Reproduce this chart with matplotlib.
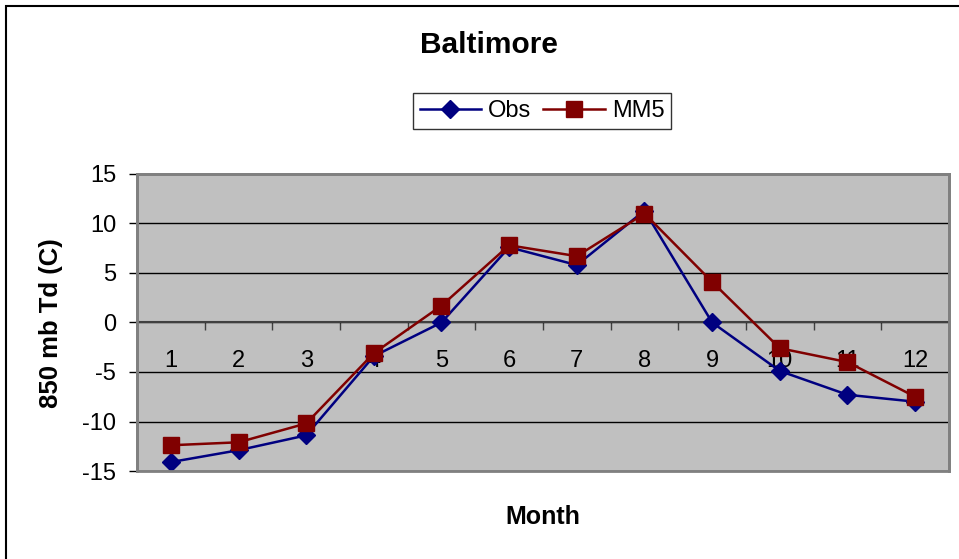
import numpy as np
import matplotlib
matplotlib.use("Agg")
import matplotlib.pyplot as plt
from matplotlib.patches import Rectangle

plt.rcParams['font.family'] = ['Liberation Sans', 'DejaVu Sans']
plt.rcParams['axes.unicode_minus'] = False

# monthly mean 850 mb dew point, observed vs MM5
months = ['1', '2', '3', '4', '5', '6', '7', '8', '9', '10', '11', '12']
obs = [-14.1, -12.9, -11.4, -3.4, 0.0, 7.6, 5.8, 11.3, 0.0, -4.9, -7.3, -8.0]
mm5 = [-12.4, -12.1, -10.2, -3.1, 1.7, 7.8, 6.7, 11.0, 4.1, -2.6, -4.0, -7.5]

fig = plt.figure(figsize=(9.59, 5.59), dpi=100)
fig.patch.set_facecolor('white')

# outer chart frame
fig.patches.append(Rectangle((6/959, -0.1), 1.2, 1 - 6/559 + 0.1, transform=fig.transFigure,
                             fill=False, edgecolor='black', linewidth=1.5))

ax = fig.add_axes([137/959, 1 - 471/559, (949 - 137)/959, (471 - 174)/559])
ax.set_facecolor('#C0C0C0')

x = np.arange(1, len(months) + 1)
ax.plot(x, obs, color='#000080', marker='D', markersize=9, linewidth=1.8, label='Obs', zorder=3)
ax.plot(x, mm5, color='#800000', marker='s', markersize=11, linewidth=1.8, label='MM5', zorder=4)

ax.set_ylim(-15, 15)
ax.set_xlim(0.5, 12.5)
ax.set_yticks(np.arange(-15, 16, 5))
ax.yaxis.grid(True, color='black', linewidth=1)
ax.set_axisbelow(True)
ax.tick_params(axis='y', direction='out', length=6, width=1, pad=9, labelsize=17, colors='black')

# category axis sits on y = 0, ticks between months
ax.spines['bottom'].set_position(('data', 0))
ax.spines['bottom'].set_color('#404040')
ax.spines['bottom'].set_linewidth(1.5)
ax.set_xticks(np.arange(0.5, 12.6, 1))
ax.set_xticklabels([])
ax.set_xticks(x, minor=True)
ax.set_xticklabels(months, minor=True)
ax.tick_params(axis='x', which='major', direction='out', length=6, width=1, color='#404040')
ax.tick_params(axis='x', which='minor', length=0, pad=20, labelsize=17)

for side in ['left', 'right', 'top']:
    ax.spines[side].set_color('#808080')
    ax.spines[side].set_linewidth(2)

# the plot area border at the bottom
ax.add_patch(Rectangle((0, 0), 1, 1, transform=ax.transAxes, fill=False,
                       edgecolor='#808080', linewidth=2, zorder=5, clip_on=False))

fig.text(489/959, 1 - 45/559, 'Baltimore', ha='center', va='center', fontsize=21.5, fontweight='bold')
fig.text(543/959, 1 - 517/559, 'Month', ha='center', va='center', fontsize=18, fontweight='bold')
fig.text(51/959, 1 - 323/559, '850 mb Td (C)', ha='center', va='center', rotation=90,
         fontsize=18.5, fontweight='bold')

leg = fig.legend(loc='center', bbox_to_anchor=(542/959, 1 - 111/559), ncol=2, fontsize=17,
                 frameon=True, fancybox=False, shadow=False, handlelength=2.6,
                 columnspacing=0.5, handletextpad=0.3, borderpad=0.3, borderaxespad=0)
leg.get_frame().set_edgecolor('black')
leg.get_frame().set_linewidth(1)

fig.savefig('out.png', dpi=100)
